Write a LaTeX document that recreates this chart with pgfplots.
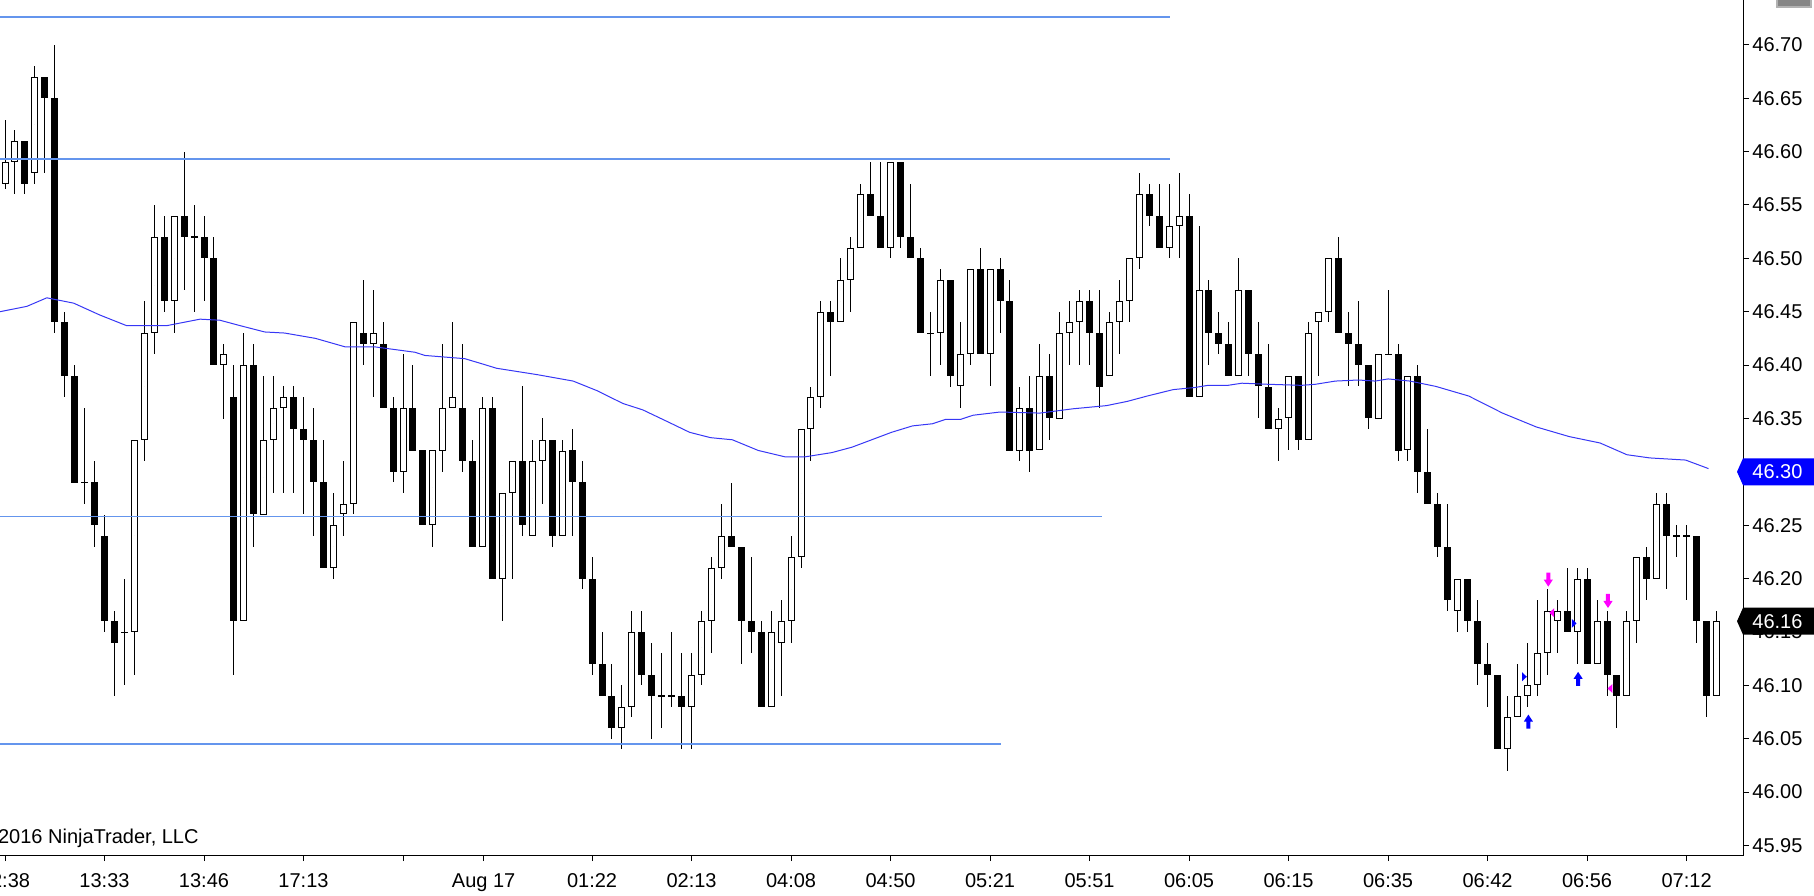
\documentclass[border=0pt]{standalone}
\usepackage{fontspec}
\setmainfont{Liberation Sans}
\usepackage{pgfplots}
\pgfplotsset{compat=1.18}
\usepackage{pgfplotstable}

\definecolor{hline}{RGB}{100,149,237}
\definecolor{macol}{RGB}{55,55,245}
\definecolor{mag}{RGB}{255,0,255}
\definecolor{bl}{RGB}{0,0,255}

\pgfdeclareplotmark{uparr}{%
 \pgfpathmoveto{\pgfqpoint{-1pt}{-3.5pt}}%
 \pgfpathlineto{\pgfqpoint{1pt}{-3.5pt}}%
 \pgfpathlineto{\pgfqpoint{1pt}{0pt}}%
 \pgfpathlineto{\pgfqpoint{2.3pt}{0pt}}%
 \pgfpathlineto{\pgfqpoint{0pt}{3.5pt}}%
 \pgfpathlineto{\pgfqpoint{-2.3pt}{0pt}}%
 \pgfpathlineto{\pgfqpoint{-1pt}{0pt}}%
 \pgfpathclose\pgfusepathqfill}
\pgfdeclareplotmark{dnarr}{%
 \pgfpathmoveto{\pgfqpoint{-1pt}{3.5pt}}%
 \pgfpathlineto{\pgfqpoint{1pt}{3.5pt}}%
 \pgfpathlineto{\pgfqpoint{1pt}{0pt}}%
 \pgfpathlineto{\pgfqpoint{2.3pt}{0pt}}%
 \pgfpathlineto{\pgfqpoint{0pt}{-3.5pt}}%
 \pgfpathlineto{\pgfqpoint{-2.3pt}{0pt}}%
 \pgfpathlineto{\pgfqpoint{-1pt}{0pt}}%
 \pgfpathclose\pgfusepathqfill}
\pgfdeclareplotmark{rtri}{%
 \pgfpathmoveto{\pgfqpoint{-1.2pt}{-2.25pt}}%
 \pgfpathlineto{\pgfqpoint{1.2pt}{0pt}}%
 \pgfpathlineto{\pgfqpoint{-1.2pt}{2.25pt}}%
 \pgfpathclose\pgfusepathqfill}
\pgfdeclareplotmark{ltri}{%
 \pgfpathmoveto{\pgfqpoint{1.2pt}{-2.25pt}}%
 \pgfpathlineto{\pgfqpoint{-1.2pt}{0pt}}%
 \pgfpathlineto{\pgfqpoint{1.2pt}{2.25pt}}%
 \pgfpathclose\pgfusepathqfill}

\pgfplotstableread{
x o h l c
1 46.57 46.63 46.565 46.59
2 46.59 46.62 46.56 46.61
3 46.61 46.61 46.56 46.57
4 46.58 46.68 46.57 46.67
5 46.67 46.67 46.58 46.65
6 46.65 46.70 46.43 46.44
7 46.44 46.45 46.37 46.39
8 46.39 46.40 46.29 46.29
9 46.29 46.36 46.27 46.29
10 46.29 46.31 46.23 46.25
11 46.24 46.26 46.15 46.16
12 46.16 46.17 46.09 46.14
13 46.15 46.20 46.10 46.15
14 46.15 46.33 46.11 46.33
15 46.33 46.46 46.31 46.43
16 46.43 46.55 46.41 46.52
17 46.52 46.54 46.45 46.46
18 46.46 46.54 46.43 46.54
19 46.54 46.60 46.47 46.52
20 46.52 46.55 46.45 46.52
21 46.52 46.54 46.46 46.50
22 46.50 46.52 46.40 46.40
23 46.40 46.42 46.35 46.41
24 46.37 46.40 46.11 46.16
25 46.16 46.43 46.16 46.40
26 46.40 46.42 46.23 46.26
27 46.26 46.39 46.26 46.33
28 46.33 46.39 46.28 46.36
29 46.36 46.38 46.28 46.37
30 46.37 46.38 46.28 46.34
31 46.34 46.37 46.26 46.33
32 46.33 46.36 46.24 46.29
33 46.29 46.33 46.21 46.21
34 46.21 46.28 46.20 46.25
35 46.26 46.31 46.24 46.27
36 46.27 46.44 46.26 46.44
37 46.43 46.48 46.40 46.42
38 46.42 46.47 46.37 46.43
39 46.42 46.44 46.36 46.36
40 46.36 46.37 46.29 46.30
41 46.30 46.41 46.28 46.36
42 46.36 46.40 46.32 46.32
43 46.32 46.32 46.25 46.25
44 46.25 46.32 46.23 46.32
45 46.32 46.42 46.30 46.36
46 46.36 46.44 46.36 46.37
47 46.36 46.42 46.30 46.31
48 46.31 46.33 46.23 46.23
49 46.23 46.37 46.23 46.36
50 46.36 46.37 46.20 46.20
51 46.20 46.28 46.16 46.28
52 46.28 46.31 46.20 46.31
53 46.31 46.38 46.24 46.25
54 46.24 46.33 46.24 46.31
55 46.31 46.35 46.27 46.33
56 46.33 46.33 46.23 46.24
57 46.24 46.33 46.24 46.32
58 46.32 46.34 46.24 46.29
59 46.29 46.31 46.19 46.20
60 46.20 46.22 46.11 46.12
61 46.12 46.15 46.09 46.09
62 46.09 46.12 46.05 46.06
63 46.06 46.10 46.04 46.08
64 46.08 46.17 46.07 46.15
65 46.15 46.17 46.10 46.11
66 46.11 46.14 46.05 46.09
67 46.09 46.13 46.06 46.09
68 46.09 46.15 46.08 46.09
69 46.09 46.13 46.04 46.08
70 46.08 46.13 46.04 46.11
71 46.11 46.17 46.10 46.16
72 46.16 46.22 46.13 46.21
73 46.21 46.27 46.20 46.24
74 46.24 46.29 46.23 46.23
75 46.23 46.23 46.12 46.16
76 46.16 46.22 46.13 46.15
77 46.15 46.16 46.08 46.08
78 46.08 46.17 46.08 46.15
79 46.14 46.18 46.09 46.16
80 46.16 46.24 46.14 46.22
81 46.22 46.34 46.21 46.34
82 46.34 46.38 46.31 46.37
83 46.37 46.46 46.36 46.45
84 46.45 46.46 46.39 46.44
85 46.44 46.50 46.44 46.48
86 46.48 46.52 46.45 46.51
87 46.51 46.57 46.51 46.56
88 46.56 46.59 46.54 46.54
89 46.54 46.59 46.51 46.51
90 46.51 46.59 46.50 46.59
91 46.59 46.59 46.51 46.52
92 46.52 46.57 46.50 46.50
93 46.50 46.51 46.43 46.43
94 46.43 46.45 46.39 46.43
95 46.43 46.49 46.40 46.48
96 46.48 46.48 46.38 46.39
97 46.38 46.44 46.36 46.41
98 46.41 46.49 46.40 46.49
99 46.49 46.51 46.41 46.41
100 46.41 46.49 46.38 46.49
101 46.49 46.50 46.43 46.46
102 46.46 46.48 46.32 46.32
103 46.32 46.38 46.31 46.36
104 46.36 46.39 46.30 46.32
105 46.32 46.42 46.32 46.39
106 46.39 46.41 46.33 46.35
107 46.35 46.45 46.35 46.43
108 46.43 46.46 46.40 46.44
109 46.44 46.47 46.40 46.46
110 46.46 46.47 46.40 46.43
111 46.43 46.47 46.36 46.38
112 46.39 46.45 46.39 46.44
113 46.44 46.48 46.41 46.46
114 46.46 46.50 46.44 46.50
115 46.50 46.58 46.49 46.56
116 46.56 46.57 46.53 46.54
117 46.54 46.57 46.51 46.51
118 46.51 46.57 46.50 46.53
119 46.53 46.58 46.50 46.54
120 46.54 46.56 46.37 46.37
121 46.37 46.53 46.37 46.47
122 46.47 46.48 46.40 46.43
123 46.43 46.45 46.41 46.42
124 46.42 46.44 46.39 46.39
125 46.39 46.50 46.39 46.47
126 46.47 46.47 46.39 46.41
127 46.41 46.44 46.35 46.38
128 46.38 46.42 46.34 46.34
129 46.34 46.36 46.31 46.35
130 46.35 46.39 46.32 46.39
131 46.39 46.39 46.32 46.33
132 46.33 46.44 46.33 46.43
133 46.44 46.45 46.39 46.45
134 46.45 46.50 46.44 46.50
135 46.50 46.52 46.43 46.43
136 46.43 46.45 46.38 46.42
137 46.42 46.46 46.38 46.40
138 46.40 46.40 46.34 46.35
139 46.35 46.41 46.35 46.41
140 46.41 46.47 46.41 46.41
141 46.41 46.42 46.31 46.32
142 46.32 46.39 46.31 46.39
143 46.39 46.40 46.28 46.30
144 46.30 46.34 46.27 46.27
145 46.27 46.28 46.22 46.23
146 46.23 46.27 46.17 46.18
147 46.17 46.20 46.15 46.20
148 46.20 46.20 46.15 46.16
149 46.16 46.18 46.10 46.12
150 46.12 46.14 46.08 46.11
151 46.11 46.11 46.04 46.04
152 46.04 46.09 46.02 46.07
153 46.07 46.12 46.07 46.09
154 46.09 46.14 46.08 46.10
155 46.10 46.18 46.09 46.13
156 46.13 46.19 46.11 46.17
157 46.16 46.18 46.13 46.17
158 46.17 46.21 46.15 46.15
159 46.15 46.21 46.12 46.20
160 46.20 46.21 46.12 46.12
161 46.12 46.18 46.12 46.16
162 46.16 46.17 46.09 46.11
163 46.11 46.11 46.06 46.09
164 46.09 46.17 46.09 46.16
165 46.16 46.22 46.14 46.22
166 46.22 46.23 46.18 46.20
167 46.20 46.28 46.20 46.27
168 46.27 46.28 46.19 46.24
169 46.24 46.25 46.22 46.24
170 46.24 46.25 46.18 46.24
171 46.24 46.24 46.14 46.16
172 46.16 46.16 46.07 46.09
173 46.09 46.17 46.09 46.16
}\candles

\pgfplotsset{candle/.style={only marks, mark=*, mark size=0pt, mark options={draw=none, fill=none},
  error bars/.cd, y dir=both, y explicit, error mark=none}}

\begin{document}
\begin{tikzpicture}
\begin{axis}[
  at={(0pt,20pt)}, anchor=south west, scale only axis,
  width=871.5pt, height=427.5pt,
  xmin=0.497, xmax=175.67, ymin=45.941, ymax=46.742,
  axis line style={draw=none},
  xtick pos=lower, ytick pos=upper,
  xticklabel pos=lower, yticklabel pos=upper,
  tick align=outside,
  major tick length=3pt,
  tick style={black, line width=0.5pt},
  xtick={1,11,21,31,41,49.1,60,70,80,90,100,110,120,130,140,150,160,170},
  xticklabels={12:38,13:33,13:46,17:13,{},Aug 17,01:22,02:13,04:08,04:50,05:21,05:51,06:05,06:15,06:35,06:42,06:56,07:12},
  ytick={45.95,46,46.05,46.1,46.15,46.2,46.25,46.3,46.35,46.4,46.45,46.5,46.55,46.6,46.65,46.7},
  y tick label style={/pgf/number format/fixed, /pgf/number format/fixed zerofill, /pgf/number format/precision=2, /pgf/number format/assume math mode=true},
  tick label style={font=\fontsize{10}{12}\selectfont},
  xticklabel style={inner sep=0pt, anchor=north, yshift=-6pt},
  yticklabel style={inner sep=0pt, anchor=west, xshift=1.5pt},
]
% wicks
\addplot[candle, error bar style={draw=black, solid, line width=0.5pt}]
  table[x=x, y expr=(\thisrow{h}+\thisrow{l})/2, y error expr=(\thisrow{h}-\thisrow{l})/2]{\candles};
% bodies (black)
\addplot[candle, error bar style={draw=black, solid, line width=3.5pt}]
  table[x=x, y expr=(\thisrow{o}+\thisrow{c})/2, y error expr={max(abs(\thisrow{c}-\thisrow{o})/2,0.00047)}]{\candles};
% hollow interiors
\addplot[candle, error bar style={draw=white, solid, line width=2.5pt}]
  table[x=x, y expr={\thisrow{c}>\thisrow{o} ? (\thisrow{o}+\thisrow{c})/2 : nan}, y error expr={abs(\thisrow{c}-\thisrow{o})/2-0.00094}]{\candles};
% horizontal lines
\addplot[hline, line width=0.75pt] coordinates {(0.497,46.726) (118.1,46.726)};
\addplot[hline, line width=0.75pt] coordinates {(0.497,46.593) (118.1,46.593)};
\addplot[hline, line width=0.75pt] coordinates {(0.497,46.258) (111.2,46.258)};
\addplot[hline, line width=0.75pt] coordinates {(0.497,46.045) (101.1,46.045)};
% moving average
\addplot[macol, line width=0.5pt] coordinates {
(0.5,46.450) (3.2,46.455) (5.2,46.463) (7.9,46.458) (10.5,46.447) (13.2,46.437)
(17.3,46.437) (20.6,46.443) (22.6,46.442) (24.6,46.437) (27.1,46.431) (29.1,46.430)
(32.2,46.425) (35.2,46.417) (38.2,46.417) (42.2,46.412) (43.2,46.409) (47.2,46.406)
(49.0,46.401) (50.4,46.397) (54.5,46.391) (58.1,46.385) (60.5,46.376) (63.1,46.364)
(65.1,46.358) (67.8,46.346) (69.8,46.337) (71.9,46.332) (74.1,46.330) (76.7,46.320)
(79.4,46.314) (81.4,46.314) (84.1,46.318) (86.1,46.323) (88.1,46.330) (90.1,46.337)
(92.2,46.343) (94.2,46.345) (95.5,46.349) (97.0,46.349) (98.3,46.353) (101.0,46.356)
(105.0,46.355) (108.3,46.359) (111.7,46.362) (113.8,46.366) (115.8,46.371) (118.4,46.377)
(120.6,46.379) (121.9,46.381) (123.9,46.381) (125.3,46.383) (127.9,46.382) (131.3,46.381)
(132.7,46.382) (134.7,46.385) (137.0,46.386) (138.7,46.385) (140.0,46.387) (142.2,46.385)
(144.8,46.380) (148.1,46.371) (151.5,46.355) (154.9,46.342) (158.2,46.333) (161.3,46.327)
(164.0,46.316) (166.3,46.313) (169.9,46.311) (172.2,46.303)};
% signal markers
\addplot[bl, only marks, mark=uparr] coordinates {(154.1,46.066) (159.1,46.106)};
\addplot[mag, only marks, mark=dnarr] coordinates {(156.1,46.199) (162.1,46.179)};
\addplot[bl, only marks, mark=rtri] coordinates {(153.7,46.108) (158.7,46.158)};
\addplot[mag, only marks, mark=ltri] coordinates {(156.45,46.168) (162.3,46.097)};
\coordinate (p30) at (axis cs:175.67,46.30);
\coordinate (p16) at (axis cs:175.67,46.16);
\end{axis}
% axis lines
\draw[black, line width=0.5pt] (0,20pt) -- (871.5pt,20pt) -- (871.5pt,447.5pt);
% price markers
\fill[bl, shift={(p30)}] (-3pt,0) -- (0,6.75pt) -- (36pt,6.75pt) -- (36pt,-6.75pt) -- (0,-6.75pt) -- cycle;
\node[anchor=west, text=white, inner sep=0pt, font=\fontsize{10}{12}\selectfont] at ([xshift=4.5pt]p30) {46.30};
\fill[black, shift={(p16)}] (-3pt,0) -- (0,6.75pt) -- (36pt,6.75pt) -- (36pt,-6.75pt) -- (0,-6.75pt) -- cycle;
\node[anchor=west, text=white, inner sep=0pt, font=\fontsize{10}{12}\selectfont] at ([xshift=4.5pt]p16) {46.16};
% copyright
\node[anchor=base east, inner sep=0pt, font=\fontsize{10}{12}\selectfont] at (99.5pt,26pt) {© 2016 NinjaTrader, LLC};
% top-right widget
\filldraw[fill=gray!95, draw=gray!60, line width=0.75pt] (888.5pt,444pt) rectangle (905.5pt,448pt);
\pgfresetboundingbox
\path[use as bounding box] (0,0) rectangle (907pt,447.5pt);
\end{tikzpicture}
\end{document}
